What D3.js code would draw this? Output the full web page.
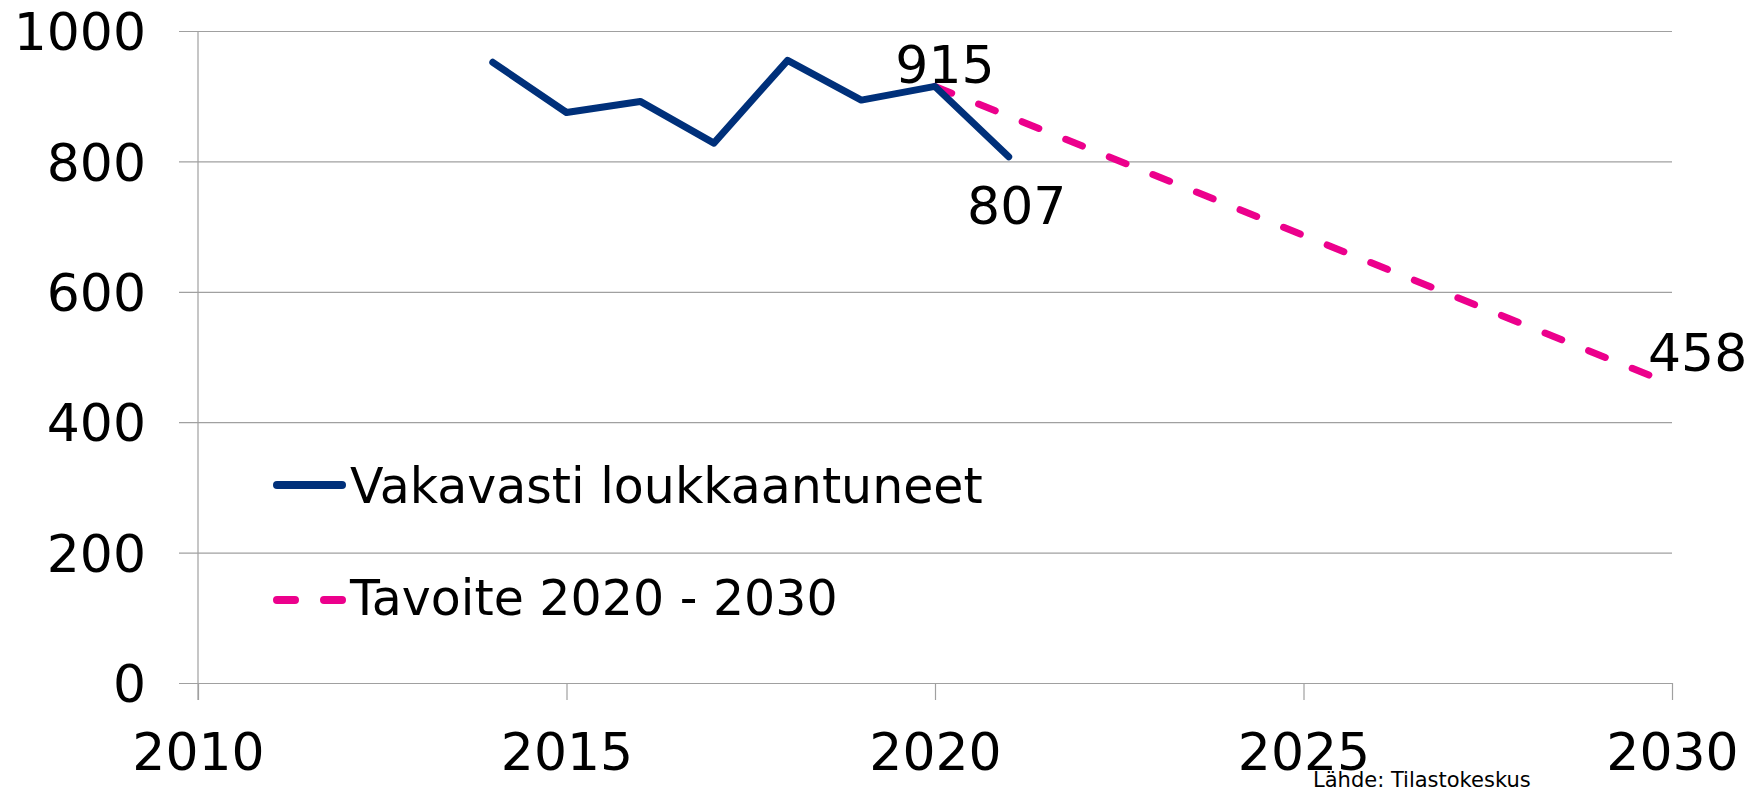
<!DOCTYPE html>
<html>
<head>
<meta charset="utf-8">
<script src="https://cdn.jsdelivr.net/npm/d3@7"></script>
<style>
  body { margin: 0; background: #fff; }
  text { font-family: "DejaVu Sans", Verdana, sans-serif; fill: #000; }
</style>
</head>
<body>
<svg id="chart"></svg>
<script>
const width = 1752;
const height = 792;

// data
const years = [2014, 2015, 2016, 2017, 2018, 2019, 2020, 2021];
const injured = [952, 875, 892, 828, 955, 894, 915, 807];
const targetYears = [2020, 2030];
const targetValues = [915, 458];
const xTicks = [2010, 2015, 2020, 2025, 2030];
const yTicks = [0, 200, 400, 600, 800, 1000];
const seriesNames = ["Vakavasti loukkaantuneet", "Tavoite 2020 - 2030"];

const svg = d3.select("svg#chart")
  .attr("width", width)
  .attr("height", height);

const margin = { top: 31, bottom: 109, left: 198, right: 80 };

const x = d3.scaleLinear()
  .domain([2010, 2030])
  .range([margin.left, width - margin.right]);
const y = d3.scaleLinear()
  .domain([0, 1000])
  .range([height - margin.bottom, margin.top]);

const gridColor = "#a0a0a0";

// horizontal gridlines + y labels
const yAxis = svg.append("g")
  .attr("id", "yAxis")
  .attr("transform", "translate(" + (margin.left - 19) + ",0)")
  .call(d3.axisRight(y).tickValues(yTicks).tickSize(x(2030) - margin.left + 19).tickFormat(d3.format("d")));
yAxis.select(".domain").remove();
yAxis.selectAll(".tick line").attr("stroke", gridColor).attr("stroke-width", 1.2);
yAxis.selectAll(".tick text")
  .attr("x", -33)
  .attr("dy", "0.36em")
  .attr("text-anchor", "end")
  .style("font-size", "52px");

// vertical axis line
svg.append("line")
  .attr("x1", x(2010)).attr("x2", x(2010))
  .attr("y1", y(1000)).attr("y2", y(0) + 17)
  .attr("stroke", gridColor).attr("stroke-width", 1.2);

// x axis
const xAxis = svg.append("g")
  .attr("id", "xAxis")
  .attr("transform", "translate(0," + y(0) + ")")
  .call(d3.axisBottom(x).tickValues(xTicks).tickSize(17).tickFormat(d3.format("d")));
xAxis.select(".domain").remove();
xAxis.selectAll(".tick line").attr("stroke", gridColor).attr("stroke-width", 1.2);
xAxis.selectAll(".tick text")
  .attr("y", 87)
  .attr("dy", 0)
  .style("font-size", "52px");

// lines
const line = d3.line()
  .x(d => x(d[0]))
  .y(d => y(d[1]));

const blue = "#00307a";
const pink = "#ec008c";

svg.append("path")
  .datum(targetYears.map((d, i) => [d, targetValues[i]]))
  .attr("d", line)
  .attr("fill", "none")
  .attr("stroke", pink)
  .attr("stroke-width", 7)
  .attr("stroke-linecap", "round")
  .attr("stroke-dasharray", "18,29");

svg.append("path")
  .datum(years.map((d, i) => [d, injured[i]]))
  .attr("d", line)
  .attr("fill", "none")
  .attr("stroke", blue)
  .attr("stroke-width", 7)
  .attr("stroke-linecap", "round")
  .attr("stroke-linejoin", "round");

// data labels
const labels = [
  { t: 2020, v: 915, dx: 10, dy: -3, anchor: "middle" },
  { t: 2021, v: 807, dx: 8, dy: 67, anchor: "middle" },
  { t: 2030, v: 458, dx: -24, dy: -13, anchor: "start" }
];
svg.append("g").selectAll("text")
  .data(labels)
  .enter()
  .append("text")
    .attr("x", d => x(d.t) + d.dx)
    .attr("y", d => y(d.v) + d.dy)
    .attr("text-anchor", d => d.anchor)
    .style("font-size", "52px")
    .text(d => d.v);

// legend
const legend = svg.append("g").attr("id", "legend");
const legendY = [485, 600];
legend.append("line")
  .attr("x1", 277).attr("x2", 342)
  .attr("y1", legendY[0]).attr("y2", legendY[0])
  .attr("stroke", blue).attr("stroke-width", 8).attr("stroke-linecap", "round");
legend.append("line")
  .attr("x1", 277).attr("x2", 342)
  .attr("y1", legendY[1]).attr("y2", legendY[1])
  .attr("stroke", pink).attr("stroke-width", 8).attr("stroke-linecap", "round")
  .attr("stroke-dasharray", "18,29");
legend.selectAll("text")
  .data(seriesNames)
  .enter()
  .append("text")
    .attr("x", 350)
    .attr("y", (d, i) => legendY[i] + [18, 15][i])
    .style("font-size", "49px")
    .text(d => d);

// source
svg.append("text")
  .attr("x", 1313)
  .attr("y", 787)
  .style("font-size", "21px")
  .text("Lähde: Tilastokeskus");
</script>
</body>
</html>
